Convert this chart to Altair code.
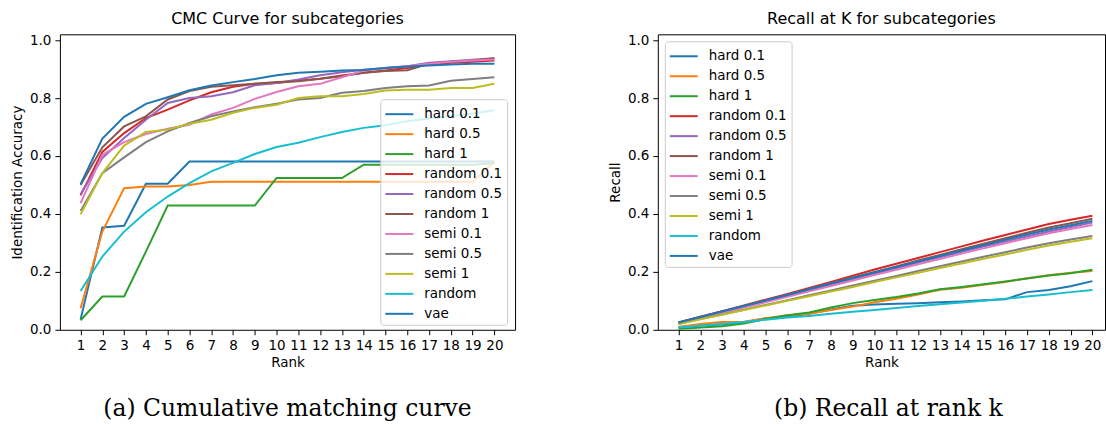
import altair as alt
import pandas as pd

ranks = [1, 2, 3, 4, 5, 6, 7, 8, 9, 10, 11, 12, 13, 14, 15, 16, 17, 18, 19, 20]
series = ["hard 0.1", "hard 0.5", "hard 1", "random 0.1", "random 0.5", "random 1",
          "semi 0.1", "semi 0.5", "semi 1", "random", "vae"]
colors = ["#1f77b4", "#ff7f0e", "#2ca02c", "#d62728", "#9467bd", "#8c564b",
          "#e377c2", "#7f7f7f", "#bcbd22", "#17becf", "#1f77b4"]
y_ticks = [0.0, 0.2, 0.4, 0.6, 0.8, 1.0]
captions = ["(a) Cumulative matching curve", "(b) Recall at rank k"]

# CMC curve values (identification accuracy)
cmc_hard_01 = [0.036, 0.353, 0.359, 0.504, 0.504, 0.581, 0.581, 0.581, 0.581, 0.581,
               0.581, 0.581, 0.581, 0.581, 0.581, 0.581, 0.581, 0.581, 0.581, 0.581]
cmc_hard_05 = [0.074, 0.339, 0.489, 0.495, 0.495, 0.500, 0.511, 0.511, 0.511, 0.511,
               0.511, 0.511, 0.511, 0.511, 0.511, 0.511, 0.511, 0.511, 0.511, 0.581]
cmc_hard_1 = [0.033, 0.115, 0.115, 0.270, 0.429, 0.429, 0.429, 0.429, 0.429, 0.524,
              0.524, 0.524, 0.524, 0.570, 0.570, 0.570, 0.570, 0.570, 0.570, 0.575]
cmc_random_01 = [0.464, 0.614, 0.679, 0.731, 0.760, 0.792, 0.820, 0.839, 0.849, 0.852,
                 0.860, 0.867, 0.878, 0.887, 0.895, 0.904, 0.916, 0.922, 0.925, 0.930]
cmc_random_05 = [0.468, 0.593, 0.662, 0.725, 0.783, 0.800, 0.806, 0.820, 0.844, 0.852,
                 0.864, 0.879, 0.889, 0.898, 0.904, 0.910, 0.922, 0.927, 0.932, 0.937]
cmc_random_1 = [0.500, 0.630, 0.702, 0.737, 0.795, 0.824, 0.839, 0.844, 0.849, 0.855,
                0.858, 0.867, 0.875, 0.887, 0.893, 0.896, 0.918, 0.925, 0.930, 0.937]
cmc_semi_01 = [0.437, 0.604, 0.648, 0.676, 0.694, 0.708, 0.743, 0.766, 0.797, 0.821,
               0.841, 0.849, 0.872, 0.895, 0.904, 0.910, 0.918, 0.925, 0.930, 0.933]
cmc_semi_05 = [0.410, 0.541, 0.595, 0.648, 0.685, 0.714, 0.737, 0.754, 0.768, 0.780,
               0.795, 0.800, 0.818, 0.824, 0.835, 0.841, 0.843, 0.860, 0.866, 0.872]
cmc_semi_1 = [0.399, 0.541, 0.636, 0.683, 0.691, 0.711, 0.725, 0.749, 0.766, 0.777,
              0.800, 0.806, 0.806, 0.814, 0.826, 0.829, 0.829, 0.835, 0.835, 0.849]
cmc_random = [0.134, 0.253, 0.339, 0.406, 0.460, 0.506, 0.547, 0.576, 0.607, 0.631,
              0.646, 0.665, 0.683, 0.697, 0.706, 0.720, 0.729, 0.738, 0.747, 0.758]
cmc_vae = [0.503, 0.660, 0.735, 0.780, 0.803, 0.827, 0.843, 0.855, 0.866, 0.879,
           0.887, 0.891, 0.895, 0.897, 0.904, 0.909, 0.912, 0.916, 0.918, 0.918]

# Recall at K values
rec_hard_01 = [0.010, 0.015, 0.018, 0.025, 0.040, 0.045, 0.055, 0.070, 0.083, 0.087,
               0.090, 0.092, 0.095, 0.098, 0.102, 0.105, 0.130, 0.137, 0.150, 0.168]
rec_hard_05 = [0.010, 0.020, 0.027, 0.028, 0.040, 0.050, 0.055, 0.068, 0.080, 0.095,
               0.107, 0.122, 0.138, 0.145, 0.155, 0.165, 0.178, 0.188, 0.197, 0.203]
rec_hard_1 = [0.003, 0.008, 0.012, 0.022, 0.037, 0.050, 0.060, 0.077, 0.092, 0.103,
              0.113, 0.125, 0.140, 0.148, 0.157, 0.167, 0.177, 0.187, 0.195, 0.207]
rec_random_01 = [0.025, 0.045, 0.064, 0.084, 0.104, 0.124, 0.144, 0.165, 0.187, 0.208,
                 0.228, 0.248, 0.268, 0.288, 0.308, 0.327, 0.346, 0.365, 0.380, 0.394]
rec_random_05 = [0.024, 0.043, 0.062, 0.080, 0.099, 0.118, 0.137, 0.156, 0.175, 0.194,
                 0.213, 0.232, 0.250, 0.269, 0.287, 0.305, 0.322, 0.339, 0.355, 0.370]
rec_random_1 = [0.025, 0.044, 0.063, 0.082, 0.102, 0.121, 0.141, 0.161, 0.181, 0.200,
                0.219, 0.239, 0.258, 0.278, 0.297, 0.316, 0.335, 0.353, 0.368, 0.383]
rec_semi_01 = [0.022, 0.040, 0.058, 0.077, 0.095, 0.114, 0.133, 0.151, 0.170, 0.189,
               0.207, 0.226, 0.244, 0.263, 0.281, 0.299, 0.316, 0.333, 0.348, 0.362]
rec_semi_05 = [0.020, 0.037, 0.053, 0.069, 0.086, 0.102, 0.119, 0.136, 0.153, 0.169,
               0.186, 0.203, 0.219, 0.236, 0.252, 0.268, 0.284, 0.299, 0.312, 0.324]
rec_semi_1 = [0.020, 0.036, 0.052, 0.068, 0.084, 0.100, 0.116, 0.132, 0.148, 0.165,
              0.181, 0.197, 0.213, 0.229, 0.245, 0.260, 0.276, 0.291, 0.304, 0.316]
rec_random = [0.008, 0.014, 0.020, 0.027, 0.035, 0.042, 0.048, 0.055, 0.062, 0.068,
              0.075, 0.082, 0.088, 0.094, 0.100, 0.107, 0.115, 0.122, 0.130, 0.137]
rec_vae = [0.025, 0.044, 0.063, 0.082, 0.101, 0.120, 0.140, 0.160, 0.179, 0.198,
           0.217, 0.236, 0.255, 0.274, 0.292, 0.311, 0.329, 0.346, 0.361, 0.376]

cmc_values = [cmc_hard_01, cmc_hard_05, cmc_hard_1, cmc_random_01, cmc_random_05,
              cmc_random_1, cmc_semi_01, cmc_semi_05, cmc_semi_1, cmc_random, cmc_vae]
rec_values = [rec_hard_01, rec_hard_05, rec_hard_1, rec_random_01, rec_random_05,
              rec_random_1, rec_semi_01, rec_semi_05, rec_semi_1, rec_random, rec_vae]


def to_frame(values):
    rows = []
    for name, vals in zip(series, values):
        for r, v in zip(ranks, vals):
            rows.append({"series": name, "rank": r, "value": v})
    return pd.DataFrame(rows)


def panel(df, title, ytitle, caption, width, xmax, lx, ly, cap_x):
    lines = alt.Chart(df).mark_line(strokeWidth=2, clip=True).encode(
        x=alt.X("rank:Q",
                scale=alt.Scale(domain=[0.05, xmax], nice=False, zero=False),
                axis=alt.Axis(values=ranks, title="Rank", format="d", labelFlush=False,
                              titlePadding=3)),
        y=alt.Y("value:Q",
                scale=alt.Scale(domain=[0, 1.02], nice=False),
                axis=alt.Axis(values=y_ticks, format=".1f", title=ytitle, titlePadding=5)),
        color=alt.Color("series:N",
                        scale=alt.Scale(domain=series, range=colors),
                        sort=series,
                        legend=alt.Legend(title=None, orient="none", legendX=lx, legendY=ly)),
    )
    cap = alt.Chart(pd.DataFrame({"caption": [caption]})).mark_text(
        font="DejaVu Serif", fontSize=23.5, align="center", baseline="alphabetic",
        color="black"
    ).encode(text="caption:N", x=alt.value(cap_x), y=alt.value(382))
    return alt.layer(lines, cap).properties(
        width=width, height=296,
        title=alt.TitleParams(title, fontSize=16, fontWeight="normal", offset=6,
                              font="DejaVu Sans", color="black"),
    )


left = panel(to_frame(cmc_values), "CMC Curve for subcategories",
             "Identification Accuracy", captions[0], 456, 20.95, 321, 65, 228)
right = panel(to_frame(rec_values), "Recall at K for subcategories",
              "Recall", captions[1], 448, 20.58, 7, 7, 231)

chart = alt.hconcat(left, right, spacing=92).resolve_scale(
    color="independent").resolve_legend(color="independent").properties(
    padding={"left": 10, "top": 10, "right": 0, "bottom": 0}
).configure(font="DejaVu Sans").configure_view(
    stroke="black", strokeWidth=1
).configure_axis(
    grid=False, domain=False, tickColor="black", tickSize=5, tickWidth=1,
    labelColor="black", labelFontSize=13.5, titleFontSize=13.5,
    titleFontWeight="normal", titleColor="black", labelPadding=4,
    labelFont="DejaVu Sans", titleFont="DejaVu Sans"
).configure_legend(
    labelFontSize=13.5, labelColor="black", labelFont="DejaVu Sans",
    symbolType="M-1,0L1.8,0", symbolSize=400, symbolStrokeWidth=2,
    rowPadding=2, padding=4, labelOffset=18,
    fillColor="rgba(255,255,255,0.8)", strokeColor="#cccccc", cornerRadius=3
)

chart.save("out.html", embed_options={"renderer": "svg", "actions": False})
